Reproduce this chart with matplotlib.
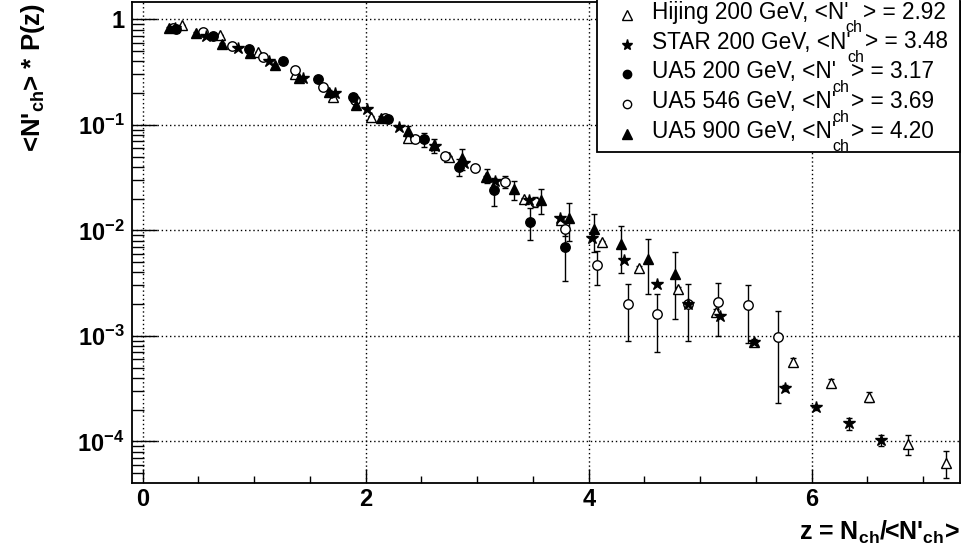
import matplotlib
matplotlib.use("Agg")
import matplotlib.pyplot as plt
import matplotlib.patches as patches
from matplotlib.ticker import FixedLocator, MultipleLocator, LogLocator, NullFormatter
import numpy as np

W, H = 963, 558

# Hijing 200 GeV (open triangles)
hij_z = [0.35, 0.69, 1.03, 1.37, 1.71, 2.05, 2.38, 2.75, 3.08, 3.42, 3.75, 4.12, 4.45,
         4.80, 5.14, 5.48, 5.83, 6.17, 6.51, 6.86, 7.20]
hij_p = [0.88, 0.71, 0.49, 0.30, 0.185, 0.119, 0.0745, 0.050, 0.032, 0.020, 0.0124,
         0.0077, 0.0044, 0.0028, 0.0017, 0.00088, 0.00057, 0.00036, 0.000265,
         0.000094, 0.000063]
hij_e = [0.005, 0.005, 0.004, 0.003, 0.002, 0.0015, 0.001, 0.0008, 0.0006, 0.0004,
         0.0003, 0.0002, 0.00015, 0.0001, 0.00008, 0.00005, 0.00004, 0.00003,
         0.00003, 0.00002, 0.000018]

# STAR 200 GeV (stars)
star_z = [0.29, 0.57, 0.85, 1.13, 1.44, 1.72, 2.01, 2.30, 2.62, 2.88, 3.16, 3.46, 3.74,
          4.03, 4.32, 4.61, 4.89, 5.18, 5.48, 5.76, 6.04, 6.33, 6.62]
star_p = [0.82, 0.70, 0.54, 0.405, 0.28, 0.20, 0.141, 0.096, 0.063, 0.043, 0.0295,
          0.0194, 0.013, 0.0085, 0.0052, 0.0031, 0.0020, 0.00154, 0.00088, 0.00032,
          0.00021, 0.000148, 0.000102]
star_e = [0.01, 0.008, 0.006, 0.005, 0.004, 0.003, 0.002, 0.0015, 0.001, 0.0008,
          0.0006, 0.0004, 0.0003, 0.0002, 0.00015, 0.0001, 0.00008, 0.00006, 0.00004,
          0.00002, 0.000012, 0.00002, 0.000012]

# UA5 200 GeV (filled circles)
ua200_z = [0.30, 0.63, 0.95, 1.26, 1.57, 1.89, 2.20, 2.52, 2.84, 3.15, 3.47, 3.79]
ua200_p = [0.81, 0.69, 0.52, 0.40, 0.27, 0.185, 0.113, 0.073, 0.040, 0.024, 0.0121,
           0.0069]
ua200_e = [0.02, 0.02, 0.015, 0.012, 0.01, 0.01, 0.006, 0.011, 0.0073, 0.007, 0.004,
           0.0036]

# UA5 546 GeV (open circles)
ua546_z = [0.27, 0.54, 0.80, 1.08, 1.37, 1.62, 1.90, 2.17, 2.44, 2.71, 2.98, 3.25,
           3.52, 3.79, 4.07, 4.35, 4.61, 4.89, 5.16, 5.43, 5.70]
ua546_p = [0.83, 0.75, 0.56, 0.44, 0.33, 0.23, 0.17, 0.115, 0.073, 0.051, 0.039,
           0.029, 0.0187, 0.0104, 0.0047, 0.0020, 0.0016, 0.0020, 0.0021, 0.00196,
           0.00098]
ua546_e = [0.01, 0.01, 0.008, 0.007, 0.006, 0.005, 0.004, 0.003, 0.003, 0.002, 0.002,
           0.004, 0.002, 0.0015, 0.0017, 0.0011, 0.0009, 0.0011, 0.0011, 0.0011,
           0.00075]

# UA5 900 GeV (filled triangles)
ua900_z = [0.24, 0.48, 0.71, 0.96, 1.19, 1.40, 1.67, 1.91, 2.14, 2.38, 2.61, 2.86,
           3.09, 3.33, 3.57, 3.82, 4.05, 4.29, 4.53, 4.77]
ua900_p = [0.82, 0.74, 0.58, 0.48, 0.37, 0.28, 0.206, 0.155, 0.115, 0.087, 0.064,
           0.048, 0.033, 0.0245, 0.0194, 0.013, 0.0102, 0.0074, 0.0054, 0.00385]
ua900_e = [0.02, 0.02, 0.015, 0.012, 0.01, 0.01, 0.008, 0.008, 0.006, 0.010, 0.010,
           0.011, 0.005, 0.005, 0.005, 0.005, 0.004, 0.0035, 0.0029, 0.0024]

legend_names = ["Hijing 200 GeV", "STAR 200 GeV", "UA5 200 GeV", "UA5 546 GeV",
                "UA5 900 GeV"]
legend_means = ["2.92", "3.48", "3.17", "3.69", "4.20"]

xticks = [0, 2, 4, 6]
yticks = [1e-4, 1e-3, 1e-2, 1e-1, 1]
ytick_labels = [r"10$^{\mathbf{-4}}$", r"10$^{\mathbf{-3}}$", r"10$^{\mathbf{-2}}$",
                r"10$^{\mathbf{-1}}$", "1"]

plt.rcParams["font.family"] = ["Liberation Sans", "DejaVu Sans"]
plt.rcParams["mathtext.fontset"] = "custom"
plt.rcParams["mathtext.rm"] = "Liberation Sans"
plt.rcParams["mathtext.bf"] = "Liberation Sans:bold"
plt.rcParams["mathtext.it"] = "Liberation Sans:italic"


def px(x, y):
    return (x / W, 1 - y / H)


fig = plt.figure(figsize=(W / 100, H / 100), dpi=100)
x0, y0 = px(131.7, 482.7)
x1, y1 = px(960, 2)
ax = fig.add_axes([x0, y0, x1 - x0, y1 - y0])
ax.set_yscale("log")
ax.set_xlim(-0.099, 7.33)
ax.set_ylim(10 ** (-4.392), 10 ** 0.164)

# series styles: (z, p, err, marker, size, filled)
series = [
    (hij_z, hij_p, hij_e, "^", 7.5, False),
    (ua546_z, ua546_p, ua546_e, "o", 6.8, False),
    (star_z, star_p, star_e, "*", 9.0, True),
    (ua200_z, ua200_p, ua200_e, "o", 6.8, True),
    (ua900_z, ua900_p, ua900_e, "^", 7.0, True),
]
for z, p, e, m, ms, filled in series:
    ax.errorbar(z, p, yerr=e, fmt=m, ms=ms, mfc="black" if filled else "white",
                mec="black", mew=1.0, ecolor="black", elinewidth=1.0, capsize=2.5,
                capthick=1.0, zorder=3)

ax.xaxis.set_major_locator(FixedLocator(xticks))
ax.xaxis.set_minor_locator(MultipleLocator(0.5))
ax.set_xticklabels([str(t) for t in xticks])
ax.yaxis.set_major_locator(FixedLocator(yticks))
ax.yaxis.set_minor_locator(LogLocator(base=10, subs=np.arange(2, 10)))
ax.yaxis.set_minor_formatter(NullFormatter())
ax.set_yticklabels(ytick_labels)

ax.tick_params(which="both", direction="in", top=False, right=False, width=1.0,
               labelsize=17)
ax.tick_params(axis="x", which="major", length=10.4, pad=4)
ax.tick_params(axis="x", which="minor", length=5.2)
ax.tick_params(axis="y", which="major", length=17.9, pad=5)
ax.tick_params(axis="y", which="minor", length=8.9)
for lab in ax.get_xticklabels() + ax.get_yticklabels():
    lab.set_fontweight("bold")

ax.grid(True, which="major", color="black", linestyle=(0, (1, 2)), linewidth=1.0)
ax.set_axisbelow(True)
for s in ax.spines.values():
    s.set_linewidth(1.3)

# axis titles
fig.text(*px(960, 540), r"z = N$_{\mathbf{ch}}$/<N'$_{\mathbf{ch}}$>", fontsize=18,
         fontweight="bold", ha="right", va="baseline")
fig.text(*px(33, 3), r"<N'$_{\mathbf{ch}}$> * P(z)", fontsize=18.5, fontweight="bold",
         rotation=90, ha="center", va="top")

# legend box
lx0, ly0 = px(596.7, 151.7)
lx1, ly1 = px(960, -10)
ax.add_patch(patches.Rectangle((lx0, ly0), lx1 - lx0, ly1 - ly0,
                               transform=fig.transFigure, facecolor="white",
                               edgecolor="black", linewidth=1.3, clip_on=False,
                               zorder=10))
leg_styles = [("^", 6.5, False), ("*", 8.0, True), ("o", 6.0, True),
              ("o", 6.0, False), ("^", 6.5, True)]
row_base = [18.7, 48.5, 78.3, 108.1, 137.9]
for name, mean, (m, ms, filled), yb in zip(legend_names, legend_means, leg_styles,
                                           row_base):
    mx, my = px(626.7, yb - 4)
    ax.plot([mx], [my], marker=m, ms=ms, mfc="black" if filled else "white",
            mec="black", mew=1.0, transform=fig.transFigure, clip_on=False,
            zorder=11)
    t1 = fig.text(*px(651.7, yb), f"{name}, <N'", fontsize=16.3, ha="left",
                  va="baseline", zorder=11)
    t2 = ax.annotate("ch", xy=(1, px(0, yb + 13.5)[1]),
                     xycoords=(t1, "figure fraction"), xytext=(-3, 0),
                     textcoords="offset pixels", fontsize=11.5, ha="left",
                     va="baseline", zorder=11, annotation_clip=False)
    ax.annotate(f"> = {mean}", xy=(1, px(0, yb)[1]),
                xycoords=(t2, "figure fraction"), xytext=(1, 0),
                textcoords="offset pixels", fontsize=16.3, ha="left", va="baseline",
                zorder=11, annotation_clip=False)

fig.savefig("out.png", dpi=100)
